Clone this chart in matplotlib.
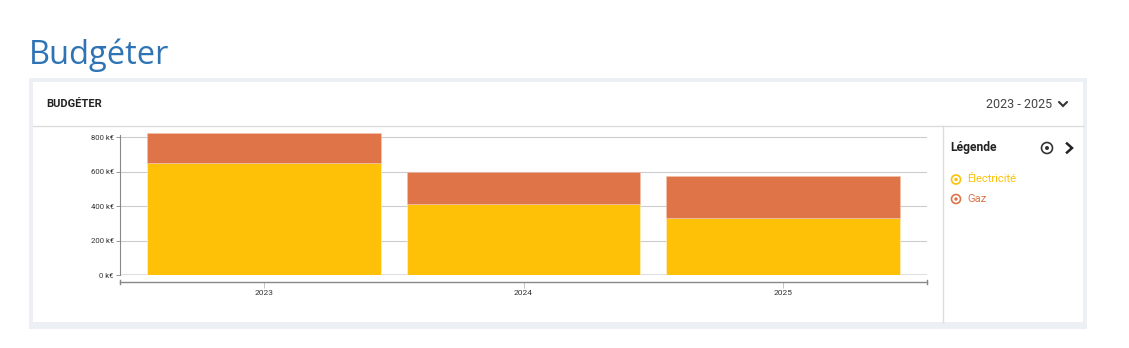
import matplotlib
matplotlib.use("Agg")
import matplotlib.pyplot as plt
from matplotlib.patches import Rectangle, Circle

# données
annees = ["2023", "2024", "2025"]
electricite = [650, 410, 333]
gaz = [173, 190, 240]
yticks = [0, 200, 400, 600, 800]

jaune = "#FEC108"
orange = "#DE7448"

W, H = 1129, 348
fig = plt.figure(figsize=(W / 100, H / 100), dpi=100)
fig.patch.set_facecolor("white")

# fond en coordonnées pixel
bg = fig.add_axes([0, 0, 1, 1])
bg.set_xlim(0, W)
bg.set_ylim(H, 0)
bg.axis("off")
bg.set_zorder(0)

bg.text(29, 55, "Budgéter", fontsize=23.5, family="Open Sans", color="#2E74B5",
        va="center", ha="left")
bg.add_patch(Rectangle((29, 78), 1058, 251, facecolor="#ECEFF3", edgecolor="none"))
bg.add_patch(Rectangle((33, 82), 1050, 240, facecolor="white", edgecolor="none"))
bg.plot([33, 1083], [125.5, 125.5], color="#DCDCDC", lw=1)
bg.plot([942.5, 942.5], [125.5, 322], color="#DCDCDC", lw=1)

bg.text(46, 103.5, "BUDGÉTER", fontsize=8, family="Roboto", weight="bold",
        color="#222222", va="center", ha="left")
bg.text(986, 104, "2023 - 2025", fontsize=9, family="Roboto", color="#444444",
        va="center", ha="left")
bg.plot([1059, 1063, 1067], [102, 106, 102], color="#333333", lw=1.5,
        solid_capstyle="round", solid_joinstyle="miter")

# panneau légende
bg.text(950, 148, "Légende", fontsize=8.7, family="Roboto", weight="bold",
        color="#222222", va="center", ha="left")
bg.add_patch(Circle((1047, 148), 5.5, facecolor="none", edgecolor="#333333", lw=1.2))
bg.add_patch(Circle((1047, 148), 2.0, facecolor="#333333", edgecolor="none"))
bg.plot([1067, 1072, 1067], [143.5, 148, 152.5], color="#222222", lw=1.8,
        solid_joinstyle="miter")

series = [("Électricité", jaune), ("Gaz", orange)]
for i, (nom, c) in enumerate(series):
    y = 179.5 + i * 19.5
    bg.add_patch(Circle((956, y), 4.5, facecolor="none", edgecolor=c, lw=1.2))
    bg.add_patch(Circle((956, y), 1.7, facecolor=c, edgecolor="none"))
    bg.text(967, y, nom, fontsize=8, family="Roboto", color=c, va="center", ha="left")

# graphique
x0, x1 = 120, 927
ymax = 830
ppu = (275 - 137.3) / 800
ytop = 275 - ymax * ppu
ax = fig.add_axes([x0 / W, (H - 275) / H, (x1 - x0) / W, (275 - ytop) / H])
ax.set_zorder(1)
ax.patch.set_alpha(0)

pos = list(range(len(annees)))
ax.bar(pos, electricite, width=0.9, color=jaune, edgecolor="#FFF3D0", linewidth=0.4, zorder=3)
ax.bar(pos, gaz, bottom=electricite, width=0.9, color=orange, edgecolor="#F2C2AE",
       linewidth=0.4, zorder=3)

ax.set_xlim(-0.554, 2.554)
ax.set_ylim(0, ymax)
ax.set_yticks(yticks)
ax.set_yticklabels([f"{v} k€" for v in yticks])
ax.set_xticks(pos)
ax.set_xticklabels(annees)
ax.grid(axis="y", color="#CCCCCC", lw=0.8, zorder=0)
ax.axhline(0, color="#DDDDDD", lw=2, zorder=1)

for s in ["top", "right"]:
    ax.spines[s].set_visible(False)
ax.spines["left"].set_bounds(0, 812)
ax.spines["left"].set_color("#888888")
ax.spines["left"].set_linewidth(0.8)
ax.spines["bottom"].set_position(("outward", 5))
ax.spines["bottom"].set_color("#888888")
ax.spines["bottom"].set_linewidth(1)
ax.tick_params(axis="y", length=3, width=0.6, color="#888888", labelsize=5.6,
               labelcolor="#333333", pad=1.5)
ax.tick_params(axis="x", length=4, width=0.6, color="#BBBBBB", labelsize=6,
               labelcolor="#333333", pad=2)
for lab in ax.get_xticklabels() + ax.get_yticklabels():
    lab.set_family("Roboto")

# petites marques aux extrémités de l'axe x
for xv in ax.get_xlim():
    ax.plot([xv, xv], [-5 / ppu, -9 / ppu], color="#888888", lw=1, clip_on=False)

fig.savefig("out.png", dpi=100)
